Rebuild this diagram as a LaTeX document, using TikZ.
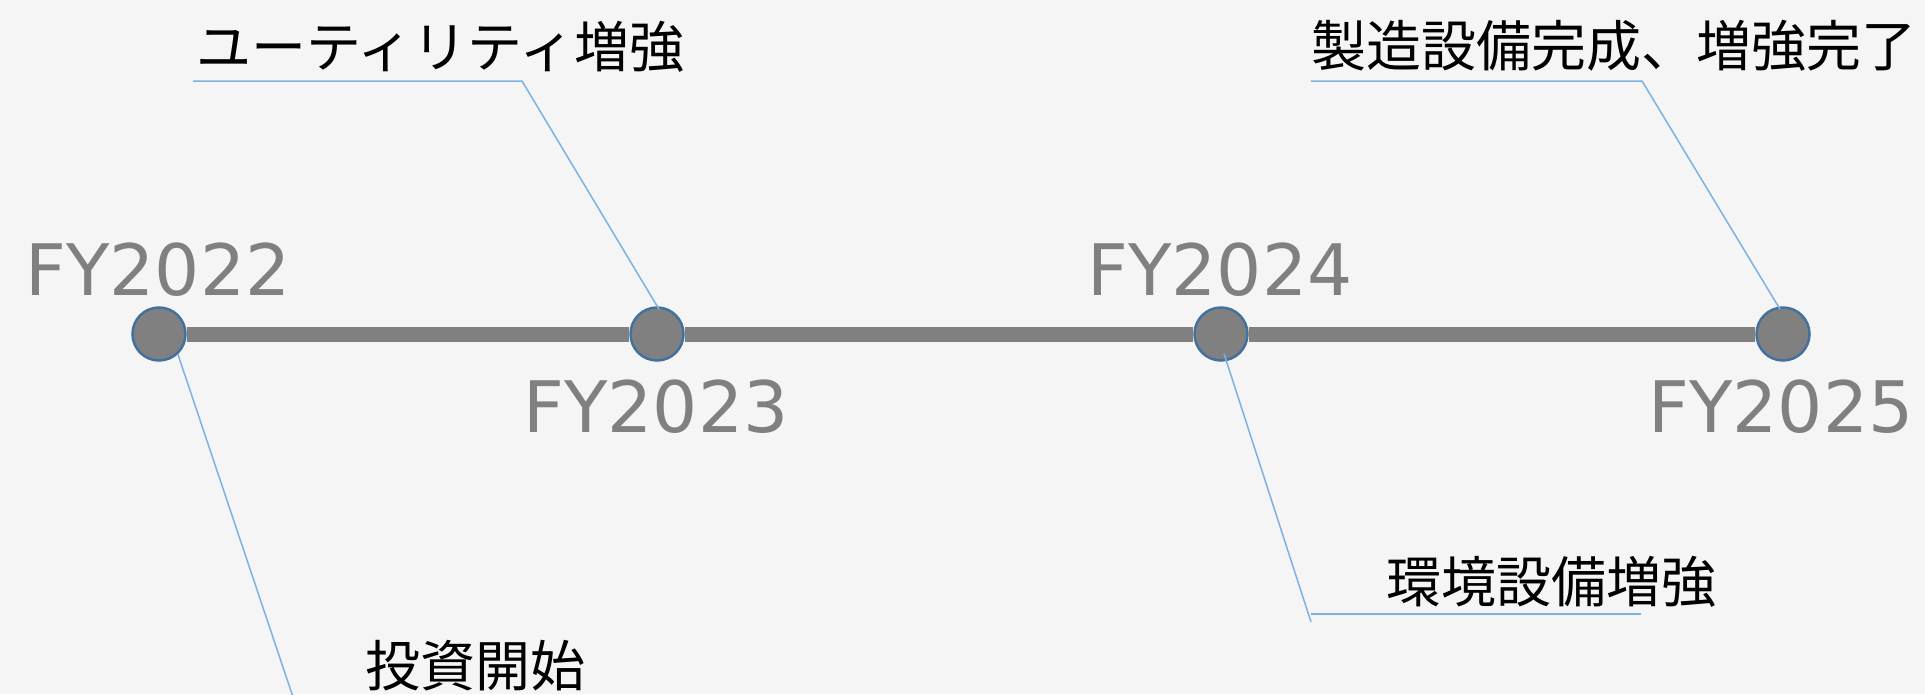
\documentclass[tikz,border=0pt]{standalone}
\usepackage{fontspec}
\newfontfamily\jp{Noto Sans CJK JP}
\newfontfamily\fyfont{DejaVu Sans}
\definecolor{bg}{HTML}{F5F5F5}
\definecolor{tl}{HTML}{808080}
\definecolor{cb}{HTML}{7EB1E3}
\definecolor{rim}{HTML}{41719C}
\begin{document}
\begin{tikzpicture}[x=1pt,y=-1pt,
  dot/.style={circle,fill=tl,draw=rim,line width=2.5pt,minimum size=53pt,inner sep=0pt},
  yr/.style={font=\fyfont\fontsize{71}{80}\selectfont,text=tl,inner sep=0pt,anchor=base},
  jl/.style={font=\jp\fontsize{55}{66}\selectfont,inner sep=0pt,anchor=west},
  callout/.style={draw=cb,line width=1.5pt},
  axisline/.style={draw=tl,line width=15pt}]
\fill[bg] (0,0) rectangle (1925,694);
\useasboundingbox (0,0) rectangle (1925,694);
% milestones
\node[dot] (d22) at (159,334) {};
\node[dot] (d23) at (657,334) {};
\node[dot] (d24) at (1221,334) {};
\node[dot] (d25) at (1783,334) {};
\draw[axisline] (d22) -- (d23) -- (d24) -- (d25);
% year labels
\node[yr] (y22) at (158,295) {FY2022};
\node[yr] (y23) at (656,432) {FY2023};
\node[yr] (y24) at (1220,295) {FY2024};
\node[yr] (y25) at (1781,432) {FY2025};
% callout texts
\node[jl] (t1) at (196,47) {ユーティリティ増強};
\node[jl] (t2) at (1311,46) {製造設備完成、増強完了};
\node[jl] (t3) at (365,666) {投資開始};
\node[jl] (t4) at (1386,582) {環境設備増強};
% callout lines
\coordinate (u1) at (193,81);
\coordinate (u2) at (522,81);
\draw[callout] (u1) -- (u2) -- ([xshift=2pt,yshift=-3pt]d23.north);
\coordinate (v1) at (1311,81);
\coordinate (v2) at (1642,81);
\draw[callout] (v1) -- (v2) -- ([xshift=-3pt,yshift=-3pt]d25.north);
\coordinate (b1) at (293,697);
\draw[callout] (d22.-47) -- (b1);
\coordinate (e1) at (1311,622);
\draw[callout] ([xshift=3pt,yshift=8pt]d24.south) -- (e1);
\coordinate (e2) at (1311,614);
\coordinate (e3) at (1641,614);
\draw[callout] (e2) -- (e3);
\end{tikzpicture}
\end{document}
